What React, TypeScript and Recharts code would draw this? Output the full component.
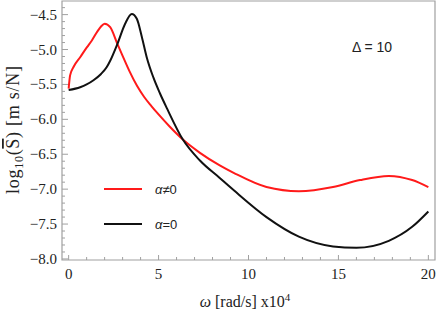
import React from "react";
import { LineChart, Line, XAxis, YAxis, ReferenceArea } from "recharts";

const redOmega = [0, 0.08, 0.27, 0.64, 1.01, 1.29, 1.6, 1.8, 2.0, 2.31, 2.71, 3.0, 3.4, 3.8, 4.2, 4.6, 5.0, 5.6, 6.35, 7.3, 8.4, 9.2, 11, 12.8, 14.7, 16.2, 17.8, 19.1, 20];
const alphaNonZero = [-5.56, -5.37, -5.25, -5.11, -4.97, -4.87, -4.74, -4.67, -4.63, -4.68, -4.92, -5.09, -5.32, -5.52, -5.68, -5.81, -5.93, -6.1, -6.29, -6.48, -6.66, -6.77, -6.97, -7.03, -6.97, -6.87, -6.81, -6.87, -6.97];
const blackOmega = [0, 0.64, 1.0, 1.38, 1.8, 2.12, 2.31, 2.71, 3.14, 3.51, 3.79, 4.07, 4.34, 4.71, 5.08, 5.46, 6.35, 7.3, 8.4, 9.2, 11, 12.8, 14.7, 16, 17.8, 19.1, 20];
const alphaZero = [-5.58, -5.54, -5.5, -5.44, -5.35, -5.25, -5.16, -4.92, -4.63, -4.49, -4.56, -4.82, -5.11, -5.4, -5.63, -5.84, -6.29, -6.59, -6.84, -7.02, -7.4, -7.68, -7.82, -7.84, -7.74, -7.54, -7.32];

const xMajorTicks = [0, 5, 10, 15, 20];
const xTicks = [0, 1, 2, 3, 4, 5, 6, 7, 8, 9, 10, 11, 12, 13, 14, 15, 16, 17, 18, 19, 20];
const yMajorTicks = [-8.0, -7.5, -7.0, -6.5, -6.0, -5.5, -5.0, -4.5];
const yTicks = Array.from({ length: 37 }, (_, i) => Math.round((-8.0 + i * 0.1) * 10) / 10);

const seriesNames = ["α≠0", "α=0"];
const seriesColors = ["#ff1a1a", "#111111"];
const annotation = "Δ = 10";

const xDomain = [-0.37, 20.37];
const yDomain = [-8.015, -4.305];

const redData = redOmega.map((w, i) => ({ w, v: alphaNonZero[i] }));
const blackData = blackOmega.map((w, i) => ({ w, v: alphaZero[i] }));

const FRAME = "#a0a0a0";
const SERIF = "Liberation Serif, Times New Roman, serif";
const SANS = "Liberation Sans, Arial, sans-serif";

const fmt = (v: number) => (v < 0 ? "\u2212" : "") + Math.abs(v).toFixed(1);

const isMajor = (list: number[], v: number) => list.some((m) => Math.abs(m - v) < 1e-6);

const XTick = (props: any) => {
  const { x, y, payload } = props;
  const major = isMajor(xMajorTicks, payload.value);
  return (
    <g>
      <line x1={x} y1={y} x2={x} y2={y - (major ? 5 : 3)} stroke={FRAME} strokeWidth={1} />
      {major && (
        <text x={x} y={y + 19} textAnchor="middle" fontFamily={SERIF} fontSize={15} fill="#222">
          {payload.value}
        </text>
      )}
    </g>
  );
};

const YTick = (props: any) => {
  const { x, y, payload } = props;
  const major = isMajor(yMajorTicks, payload.value);
  return (
    <g>
      <line x1={x} y1={y} x2={x + (major ? 6 : 3)} y2={y} stroke={FRAME} strokeWidth={1} />
      {major && (
        <text x={x - 5} y={y + 5} textAnchor="end" fontFamily={SERIF} fontSize={15} fill="#222">
          {fmt(payload.value)}
        </text>
      )}
    </g>
  );
};

const YTitle = () => {
  const cy = 130;
  const cx = 19;
  return (
    <text
      x={cx}
      y={cy}
      transform={`rotate(-90, ${cx}, ${cy})`}
      textAnchor="middle"
      fontFamily={SERIF}
      fontSize={18}
      fill="#222"
      textLength={128}
      lengthAdjust="spacing"
    >
      log
      <tspan fontSize={12} dy={4}>10</tspan>
      <tspan dy={-4}>(</tspan>
      <tspan style={{ textDecoration: "overline" }}>S</tspan>
      <tspan>) [m s/N]</tspan>
    </text>
  );
};

const XTitle = () => {
  return (
    <text x={245} y={307} textAnchor="middle" fontFamily={SERIF} fontSize={16} fill="#222">
      <tspan fontStyle="italic">ω</tspan>
      <tspan> [rad/s] x10</tspan>
      <tspan fontSize={11} dy={-6}>4</tspan>
    </text>
  );
};

export default function App() {
  return (
    <div style={{ position: "absolute", left: 0, top: 0, width: 436, height: 315 }}>
      <LineChart width={436} height={315} margin={{ top: 1, right: 1, bottom: 0, left: 0 }}>
        <XAxis
          dataKey="w"
          type="number"
          domain={xDomain}
          allowDataOverflow
          ticks={xTicks}
          interval={0}
          tickSize={0}
          tickMargin={0}
          tickLine={false}
          axisLine={false}
          tick={<XTick />}
          height={55}
          label={<XTitle />}
        />
        <YAxis
          type="number"
          domain={yDomain}
          allowDataOverflow
          ticks={yTicks}
          interval={0}
          tickSize={0}
          tickMargin={0}
          tickLine={false}
          axisLine={false}
          tick={<YTick />}
          width={62}
          label={<YTitle />}
        />
        <ReferenceArea x1={xDomain[0]} x2={xDomain[1]} y1={yDomain[0]} y2={yDomain[1]} fill="none" stroke={FRAME} strokeWidth={1.2} ifOverflow="visible" />
        <Line data={redData} type="monotone" dataKey="v" stroke={seriesColors[0]} strokeWidth={2} dot={false} isAnimationActive={false} />
        <Line data={blackData} type="monotone" dataKey="v" stroke={seriesColors[1]} strokeWidth={2} dot={false} isAnimationActive={false} />
      </LineChart>
      <svg style={{ position: "absolute", left: 104, top: 180 }} width={110} height={60}>
        {seriesNames.map((n, i) => (
          <g key={n}>
            <line x1={0} y1={9 + i * 35} x2={38} y2={9 + i * 35} stroke={seriesColors[i]} strokeWidth={2} />
            <text x={51} y={14 + i * 35} fontFamily={SANS} fontSize={13} fill="#222">
              <tspan fontStyle="italic">α</tspan>
              {n.slice(1)}
            </text>
          </g>
        ))}
      </svg>
      <div style={{ position: "absolute", left: 352, top: 39, fontFamily: SANS, fontSize: 14, color: "#222", whiteSpace: "nowrap" }}>
        {annotation}
      </div>
    </div>
  );
}
